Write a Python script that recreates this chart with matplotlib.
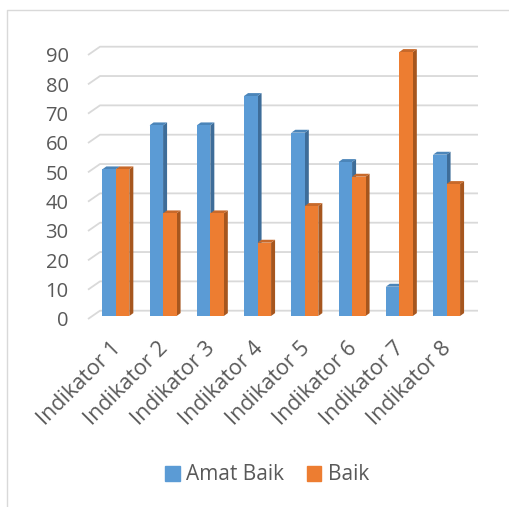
import numpy as np
import matplotlib.pyplot as plt
from matplotlib.patches import Polygon, Patch
from matplotlib.lines import Line2D

# Data
kategori = ['Indikator 1', 'Indikator 2', 'Indikator 3', 'Indikator 4',
            'Indikator 5', 'Indikator 6', 'Indikator 7', 'Indikator 8']
amat_baik = [50, 65, 65, 75, 62.5, 52.5, 10, 55]
baik = [50, 35, 35, 25, 37.5, 47.5, 90, 45]
y_ticks = [0, 10, 20, 30, 40, 50, 60, 70, 80, 90]

plt.rcParams['font.family'] = ['Open Sans', 'DejaVu Sans']
abu = '#595959'
grid_col = '#D9D9D9'

# warna: depan, samping, atas
warna_biru = ('#5B9BD5', '#3E6D99', '#4B85B9')
warna_oranye = ('#ED7D31', '#A6561E', '#C8692A')

W, H = 510, 507
fig = plt.figure(figsize=(W / 100, H / 100), dpi=100)
ax = fig.add_axes([88 / W, (H - 319) / H, 378 / W, 264 / H])
ax.set_xlim(-0.5, 7.5)
ax.set_ylim(0, 90)

# konversi piksel -> satuan data
px_x = 378 / 8
px_y = 264 / 90
DX, DY = 12 / px_x, 8.3 / px_y          # kedalaman lantai
BX, BY = 4.2 / px_x, 3.0 / px_y         # posisi depan batang
SX, SY = 4.0 / px_x, 2.9 / px_y         # kedalaman batang
lebar = 13.5 / px_x

# gridlines dinding belakang + diagonal dinding samping
for v in y_ticks:
    ax.plot([-0.5, -0.5 + DX, 7.5 + DX], [v, v + DY, v + DY],
            color=grid_col, lw=1.3, zorder=1, clip_on=False,
            solid_capstyle='butt')


def batang(x0, h, warna):
    x1 = x0 + lebar
    y0 = BY
    y1 = h + BY
    depan, samping, atas = warna
    ax.add_patch(Polygon([(x1, y0), (x1 + SX, y0 + SY), (x1 + SX, y1 + SY), (x1, y1)],
                         closed=True, fc=samping, ec='none', zorder=3, clip_on=False))
    ax.add_patch(Polygon([(x0, y1), (x1, y1), (x1 + SX, y1 + SY), (x0 + SX, y1 + SY)],
                         closed=True, fc=atas, ec='none', zorder=3, clip_on=False))
    ax.add_patch(Polygon([(x0, y0), (x1, y0), (x1, y1), (x0, y1)],
                         closed=True, fc=depan, ec='none', zorder=3, clip_on=False))


for i in range(len(kategori)):
    kiri = i + BX - lebar
    batang(kiri, amat_baik[i], warna_biru)
    batang(kiri + lebar, baik[i], warna_oranye)

# sumbu
for s in ax.spines.values():
    s.set_visible(False)
ax.set_xticks([])
ax.set_yticks(y_ticks)
ax.set_yticklabels([str(t) for t in y_ticks], fontsize=14.5, color=abu)
ax.tick_params(axis='y', length=0, pad=14)

for i, k in enumerate(kategori):
    ax.text(i + BX + 0.04, -9, k, rotation=45, rotation_mode='anchor',
            ha='right', va='center', fontsize=15.5, color=abu)

# legenda
handles = [Patch(color=warna_biru[0], label='Amat Baik'),
           Patch(color=warna_oranye[0], label='Baik')]
fig.legend(handles=handles, loc='center', bbox_to_anchor=(267 / W, (H - 475) / H),
           ncol=2, frameon=False, fontsize=15, labelcolor=abu,
           handlelength=0.7, handleheight=0.7, handletextpad=0.3,
           columnspacing=1.1)

# bingkai
fig.add_artist(Line2D([7 / W, 7 / W, 1], [0, (H - 10) / H, (H - 10) / H],
                      transform=fig.transFigure, color=grid_col, lw=1.0))

fig.savefig('out.png', dpi=100)
